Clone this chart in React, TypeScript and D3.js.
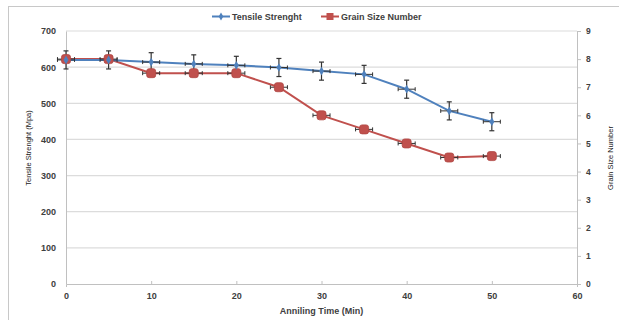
import { useEffect, useRef } from "react";
import * as d3 from "d3";

const times = [0, 5, 10, 15, 20, 25, 30, 35, 40, 45, 50];
const tensile = [620, 620, 614, 609, 605, 599, 589, 580, 539, 479, 449];
const tensileErr = [25, 25, 26, 25, 25, 25, 25, 25, 25, 25, 25];
const grainSize = [8, 8, 7.5, 7.5, 7.5, 7, 6, 5.5, 5, 4.5, 4.55];
const timeErr = [1, 1, 1, 1, 1, 1, 1, 1, 1, 1, 1];
const leftTicks = [0, 100, 200, 300, 400, 500, 600, 700];
const rightTicks = [0, 1, 2, 3, 4, 5, 6, 7, 8, 9];
const xTicks = [0, 10, 20, 30, 40, 50, 60];

const BLUE = "#4F81BD";
const RED = "#C0504D";
const FONT = "'Liberation Sans', Arial, sans-serif";

export default function App() {
    const svgRef = useRef<SVGSVGElement>(null);

    useEffect(() => {
        const svg = d3.select(svgRef.current);
        svg.selectAll("*").remove();

        const width = 619;
        const height = 320;
        const margin = { top: 31, right: 42, bottom: 36, left: 66 };
        const innerWidth = width - margin.left - margin.right;
        const innerHeight = height - margin.top - margin.bottom;

        // outer chart frame
        svg.append("rect")
            .attr("x", 8.5)
            .attr("y", 6.5)
            .attr("width", 640)
            .attr("height", 340)
            .attr("fill", "white")
            .attr("stroke", "#c8c8c8");

        const g = svg.append("g")
            .attr("transform", `translate(${margin.left},${margin.top})`);

        const x = d3.scaleLinear().domain([0, 60]).range([0, innerWidth]);
        const y = d3.scaleLinear().domain([0, 700]).range([innerHeight, 0]);
        const y2 = d3.scaleLinear().domain([0, 9]).range([innerHeight, 0]);

        // grid
        g.selectAll(".grid")
            .data(leftTicks.filter((d) => d > 0))
            .enter()
            .append("line")
            .attr("x1", 0)
            .attr("x2", innerWidth)
            .attr("y1", (d) => y(d))
            .attr("y2", (d) => y(d))
            .attr("stroke", "#dcdcdc")
            .attr("stroke-width", 1.2);

        // axes
        const axisColor = "#c0c0c0";
        const labelColor = "#404040";

        const xAxis = g.append("g")
            .attr("transform", `translate(0,${innerHeight})`)
            .call(d3.axisBottom(x).tickValues(xTicks).tickSize(3).tickPadding(6));
        const yAxis = g.append("g")
            .call(d3.axisLeft(y).tickValues(leftTicks).tickSize(0).tickPadding(10));
        const y2Axis = g.append("g")
            .attr("transform", `translate(${innerWidth},0)`)
            .call(d3.axisRight(y2).tickValues(rightTicks).tickSize(4).tickPadding(5));

        [xAxis, yAxis, y2Axis].forEach((a) => {
            a.select(".domain").attr("stroke", axisColor);
            a.selectAll(".tick line").attr("stroke", axisColor);
            a.selectAll(".tick text")
                .attr("fill", labelColor)
                .attr("font-family", FONT)
                .attr("font-weight", "bold")
                .attr("font-size", 9);
        });
        xAxis.selectAll(".tick line").attr("transform", "translate(0,-3)");
        y2Axis.selectAll(".tick text").attr("font-size", 8.5);

        // titles
        svg.append("text")
            .attr("x", margin.left + innerWidth / 2)
            .attr("y", 314)
            .attr("text-anchor", "middle")
            .attr("font-family", FONT)
            .attr("font-weight", "bold")
            .attr("font-size", 9)
            .attr("fill", labelColor)
            .text("Anniling Time (Min)");

        svg.append("text")
            .attr("transform", "translate(31,148) rotate(-90)")
            .attr("text-anchor", "middle")
            .attr("font-family", FONT)
            .attr("font-size", 7.5)
            .attr("fill", "#202020")
            .text("Tensile Strenght (Mpa)");

        svg.append("text")
            .attr("transform", "translate(613,158) rotate(-90)")
            .attr("text-anchor", "middle")
            .attr("font-family", FONT)
            .attr("font-size", 7.5)
            .attr("fill", "#202020")
            .text("Grain Size Number");

        const errColor = "#333";

        // grain size series
        const grainLine = d3.line<number>()
            .x((_, i) => x(times[i]))
            .y((d) => y2(d));
        g.append("path")
            .datum(grainSize)
            .attr("d", grainLine)
            .attr("fill", "none")
            .attr("stroke", RED)
            .attr("stroke-width", 2);

        grainSize.forEach((d, i) => {
            const cx = x(times[i]);
            const cy = y2(d);
            const x0 = x(times[i] - timeErr[i]);
            const x1 = x(times[i] + timeErr[i]);
            g.append("line").attr("x1", x0).attr("x2", x1).attr("y1", cy).attr("y2", cy)
                .attr("stroke", errColor).attr("stroke-width", 1);
            [x0, x1].forEach((xx) => {
                g.append("line").attr("x1", xx).attr("x2", xx).attr("y1", cy - 2).attr("y2", cy + 2)
                    .attr("stroke", errColor).attr("stroke-width", 1);
            });
        });

        // tensile series
        const tensLine = d3.line<number>()
            .x((_, i) => x(times[i]))
            .y((d) => y(d));
        g.append("path")
            .datum(tensile)
            .attr("d", tensLine)
            .attr("fill", "none")
            .attr("stroke", BLUE)
            .attr("stroke-width", 2);

        tensile.forEach((d, i) => {
            const cx = x(times[i]);
            const cy = y(d);
            const x0 = x(times[i] - timeErr[i]);
            const x1 = x(times[i] + timeErr[i]);
            const yt = y(d + tensileErr[i]);
            const yb = y(d - tensileErr[i]);
            g.append("line").attr("x1", x0).attr("x2", x1).attr("y1", cy).attr("y2", cy)
                .attr("stroke", errColor).attr("stroke-width", 1);
            [x0, x1].forEach((xx) => {
                g.append("line").attr("x1", xx).attr("x2", xx).attr("y1", cy - 2).attr("y2", cy + 2)
                    .attr("stroke", errColor).attr("stroke-width", 1);
            });
            g.append("line").attr("x1", cx).attr("x2", cx).attr("y1", yt).attr("y2", yb)
                .attr("stroke", errColor).attr("stroke-width", 1.2);
            [yt, yb].forEach((yy) => {
                g.append("line").attr("x1", cx - 2.5).attr("x2", cx + 2.5).attr("y1", yy).attr("y2", yy)
                    .attr("stroke", errColor).attr("stroke-width", 1.2);
            });
        });

        // markers
        g.selectAll(".grainMark")
            .data(grainSize)
            .enter()
            .append("rect")
            .attr("x", (_, i) => x(times[i]) - 4.5)
            .attr("y", (d) => y2(d) - 4.5)
            .attr("width", 9)
            .attr("height", 9)
            .attr("rx", 2.5)
            .attr("fill", RED)
            .attr("stroke", "#b04642")
            .attr("stroke-width", 0.8);

        g.selectAll(".tensMark")
            .data(tensile)
            .enter()
            .append("path")
            .attr("transform", (d, i) => `translate(${x(times[i])},${y(d)})`)
            .attr("d", d3.symbol(d3.symbolDiamond, 22)())
            .attr("fill", BLUE);

        // legend
        const legend = svg.append("g").attr("font-family", FONT).attr("font-size", 9)
            .attr("font-weight", "bold").attr("fill", labelColor);
        const items = [
            { name: "Tensile Strenght", color: BLUE, x: 212, square: false },
            { name: "Grain Size Number", color: RED, x: 321, square: true },
        ];
        items.forEach((it) => {
            legend.append("line").attr("x1", it.x).attr("x2", it.x + 18).attr("y1", 16.5).attr("y2", 16.5)
                .attr("stroke", it.color).attr("stroke-width", 2);
            if (it.square) {
                legend.append("rect").attr("x", it.x + 5.5).attr("y", 13).attr("width", 7).attr("height", 7)
                    .attr("fill", it.color);
            } else {
                legend.append("path").attr("transform", `translate(${it.x + 9},16.5)`)
                    .attr("d", d3.symbol(d3.symbolDiamond, 18)()).attr("fill", it.color);
            }
            legend.append("text").attr("x", it.x + 20).attr("y", 19.5).text(it.name);
        });
    }, []);

    return (
        <div style={{ position: "absolute", left: 0, top: 0 }}>
            <svg ref={svgRef} width={619} height={320} style={{ display: "block" }} />
        </div>
    );
}
